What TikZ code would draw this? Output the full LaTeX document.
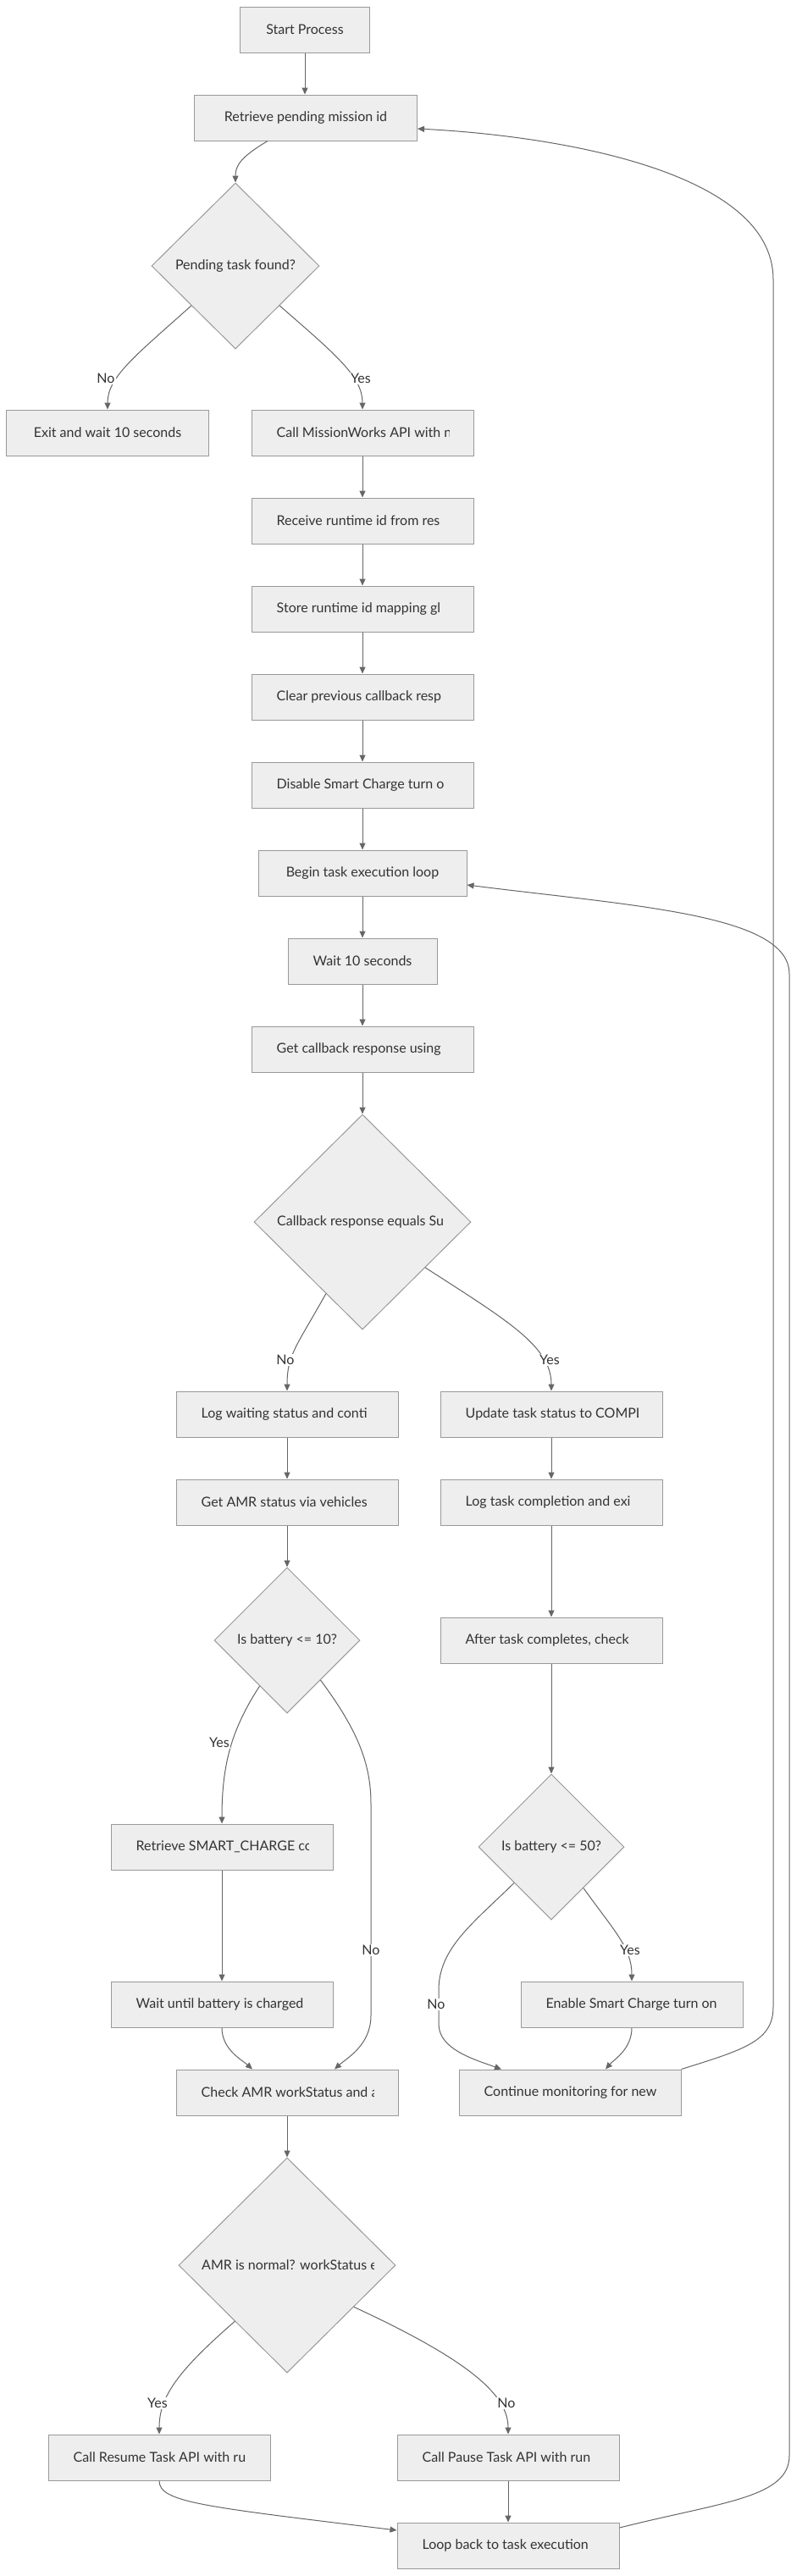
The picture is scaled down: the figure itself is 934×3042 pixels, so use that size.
\documentclass[tikz,border=0pt]{standalone}
\usepackage{fontspec}
\setmainfont{Lato}
\usetikzlibrary{shapes.geometric,arrows.meta}
\definecolor{nfill}{HTML}{EEEEEE}
\definecolor{nline}{HTML}{999999}
\definecolor{eline}{HTML}{666666}
\definecolor{ntext}{HTML}{333333}
\newcommand\fs{\fontsize{16}{19}\selectfont}
\tikzset{
 proc/.style={draw=nline, fill=nfill, line width=1pt, minimum height=54pt, inner sep=0pt, text=ntext, font=\fs},
 dec/.style={diamond, draw=nline, fill=nfill, line width=1pt, inner sep=0pt, text=ntext, font=\fs, aspect=1},
 lbl/.style={text=ntext, font=\fs, inner sep=0pt},
 elbl/.style={fill=white, text=ntext, font=\fs, inner sep=1pt},
 flow/.style={draw=eline, line width=1pt, -{Triangle[length=8pt,width=7pt]}},
}
\newcommand\cliptext[2]{%
 \begin{scope}
 \clip ([xshift=30pt]#1.south west) rectangle ([xshift=-29pt]#1.north east);
 \node[lbl, anchor=west] (#1-t) at ([xshift=30pt]#1.west) {#2};
 \end{scope}}
\newcommand\clipdtext[2]{%
 \begin{scope}
 \clip ([xshift=-101pt,yshift=-15pt]#1.center) rectangle ([xshift=102pt,yshift=15pt]#1.center);
 \node[lbl, anchor=west] (#1-t) at ([xshift=-101pt]#1.center) {#2};
 \end{scope}}
\begin{document}
\begin{tikzpicture}[x=1pt,y=-1pt]
\useasboundingbox (0,0) rectangle (934,3042);
\fill[white] (0,0) rectangle (934,3042);
% nodes
\node[proc, minimum width=153pt] (start) at (360,35) {Start Process};
\node[proc, minimum width=263pt] (retr) at (361,139) {Retrieve pending mission id};
\node[dec, minimum width=198pt, minimum height=196pt] (pend) at (278,314) {Pending task found?};
\node[proc, minimum width=239pt] (exitw) at (127,511) {Exit and wait 10 seconds};
\node[proc, minimum width=262pt] (call) at (428,511) {}; \cliptext{call}{Call MissionWorks API with n}
\node[proc, minimum width=262pt] (recv) at (428,615) {}; \cliptext{recv}{Receive runtime id from res}
\node[proc, minimum width=262pt] (store) at (428,719) {}; \cliptext{store}{Store runtime id mapping gl}
\node[proc, minimum width=262pt] (clear) at (428,823) {}; \cliptext{clear}{Clear previous callback resp}
\node[proc, minimum width=262pt] (disable) at (428,927) {}; \cliptext{disable}{Disable Smart Charge turn o}
\node[proc, minimum width=246pt] (begin) at (428,1031) {Begin task execution loop};
\node[proc, minimum width=176pt] (wait10) at (428,1135) {Wait 10 seconds};
\node[proc, minimum width=262pt] (getcb) at (428,1239) {}; \cliptext{getcb}{Get callback response using}
\node[dec, minimum width=256pt, minimum height=254pt] (cbdia) at (428,1443) {}; \clipdtext{cbdia}{Callback response equals Su}
\node[proc, minimum width=262pt] (logwait) at (339,1670) {}; \cliptext{logwait}{Log waiting status and conti}
\node[proc, minimum width=262pt] (update) at (651,1670) {}; \cliptext{update}{Update task status to COMPL}
\node[proc, minimum width=262pt] (getamr) at (339,1774) {}; \cliptext{getamr}{Get AMR status via vehicles}
\node[proc, minimum width=262pt] (logtask) at (651,1774) {}; \cliptext{logtask}{Log task completion and exi}
\node[dec, minimum width=172pt, minimum height=172pt] (bat10) at (339,1937) {Is battery <= 10?};
\node[proc, minimum width=262pt] (after) at (651,1937) {}; \cliptext{after}{After task completes, check}
\node[dec, minimum width=172pt, minimum height=172pt] (bat50) at (651,2181) {Is battery <= 50?};
\node[proc, minimum width=262pt] (retsmart) at (262,2181) {}; \cliptext{retsmart}{Retrieve SMART\_CHARGE con}
\node[proc, minimum width=262pt] (waitch) at (262,2367) {}; \cliptext{waitch}{Wait until battery is charged}
\node[proc, minimum width=262pt] (enable) at (746,2367) {}; \cliptext{enable}{Enable Smart Charge turn on}
\node[proc, minimum width=262pt] (checkamr) at (339,2471) {}; \cliptext{checkamr}{Check AMR workStatus and a}
\node[proc, minimum width=262pt] (contin) at (673,2471) {}; \cliptext{contin}{Continue monitoring for new}
\node[dec, minimum width=256pt, minimum height=254pt] (amrdia) at (339,2675) {}; \clipdtext{amrdia}{AMR is normal? workStatus e}
\node[proc, minimum width=262pt] (resume) at (188,2902) {}; \cliptext{resume}{Call Resume Task API with ru}
\node[proc, minimum width=262pt] (pause) at (600,2902) {}; \cliptext{pause}{Call Pause Task API with run}
\node[proc, minimum width=262pt] (loopb) at (600,3006) {}; \cliptext{loopb}{Loop back to task execution}
% edges
\draw[flow] (start.south) -- (start.south |- retr.north);
\draw[flow] ([xshift=-45pt]retr.south) .. controls (285,185) and (278,195) .. (pend.north);
\draw[flow] (pend.-138) .. controls (160,420) and (127,445) .. (exitw.north);
\draw[flow] (pend.-42) .. controls (398,420) and (428,445) .. (call.north);
\draw[flow] (call) -- (recv);
\draw[flow] (recv) -- (store);
\draw[flow] (store) -- (clear);
\draw[flow] (clear) -- (disable);
\draw[flow] (disable) -- (begin);
\draw[flow] (begin) -- (wait10);
\draw[flow] (wait10) -- (getcb);
\draw[flow] (getcb) -- (cbdia);
\draw[flow] (cbdia.-117) .. controls (350,1590) and (339,1600) .. (logwait.north);
\draw[flow] (cbdia.-36) .. controls (600,1560) and (651,1590) .. (update.north);
\draw[flow] (logwait) -- (getamr);
\draw[flow] (getamr) -- (bat10);
\draw[flow] (update) -- (logtask);
\draw[flow] (logtask) -- (after);
\draw[flow] (after) -- (bat50);
\draw[flow] (bat10.-121) .. controls (275,2040) and (262,2080) .. (retsmart.north);
\draw[flow] (bat10.-50) .. controls (420,2040) and (438,2080) .. (438,2130) -- (438,2380) .. controls (438,2415) and (410,2430) .. ([xshift=56pt]checkamr.north);
\draw[flow] (retsmart) -- (waitch);
\draw[flow] (waitch.south) .. controls (262,2420) and (285,2432) .. ([xshift=-41pt]checkamr.north);
\draw[flow] (bat50.-136) .. controls (560,2270) and (518,2300) .. (518,2350) -- (518,2390) .. controls (518,2420) and (560,2432) .. ([xshift=-81pt]contin.north);
\draw[flow] (bat50.-52) .. controls (725,2280) and (746,2300) .. (enable.north);
\draw[flow] (enable.south) .. controls (746,2420) and (725,2432) .. ([xshift=42pt]contin.north);
\draw[flow] (contin.north east) .. controls (880,2420) and (913,2410) .. (913,2370) -- (913,330) .. controls (913,200) and (650,160) .. ([yshift=-13pt]retr.east);
\draw[flow] (checkamr) -- (amrdia);
\draw[flow] (amrdia.-133) .. controls (210,2800) and (188,2830) .. (resume.north);
\draw[flow] (amrdia.-32) .. controls (560,2790) and (600,2830) .. (pause.north);
\draw[flow] (resume.south) .. controls (188,2955) and (240,2960) .. ([yshift=18pt]loopb.west);
\draw[flow] (pause) -- (loopb);
\draw[flow] ([yshift=21pt]loopb.east) .. controls (850,2955) and (932,2950) .. (932,2900) -- (932,1150) .. controls (932,1080) and (750,1070) .. ([yshift=-14pt]begin.east);
% edge labels
\node[elbl] (l1) at (125,447) {No};
\node[elbl] (l2) at (426,447) {Yes};
\node[elbl] (l3) at (337,1606) {No};
\node[elbl] (l4) at (649,1606) {Yes};
\node[elbl] (l5) at (259,2058) {Yes};
\node[elbl] (l6) at (438,2303) {No};
\node[elbl] (l7) at (515,2367) {No};
\node[elbl] (l8) at (744,2303) {Yes};
\node[elbl] (l9) at (186,2838) {Yes};
\node[elbl] (l10) at (598,2838) {No};
\end{tikzpicture}
\end{document}
